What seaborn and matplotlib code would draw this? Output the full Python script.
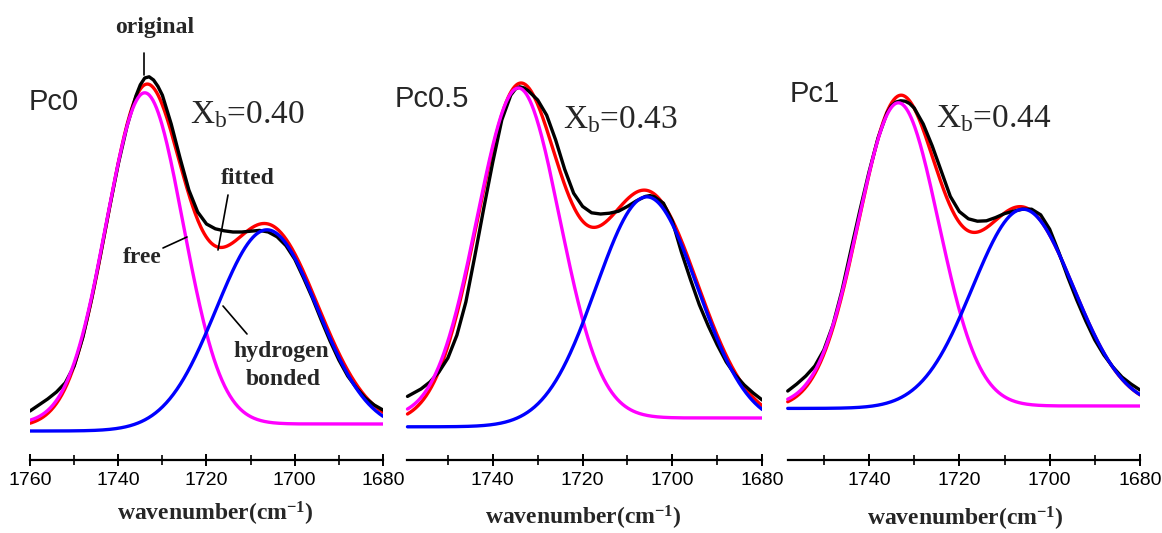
import numpy as np
import pandas as pd
import matplotlib
matplotlib.use("Agg")
import matplotlib.pyplot as plt
import seaborn as sns
from matplotlib.lines import Line2D
from matplotlib.ticker import FixedLocator

sns.set_style("white")
plt.rcParams["font.family"] = ["Liberation Sans", "DejaVu Sans"]
plt.rcParams["mathtext.fontset"] = "custom"
plt.rcParams["mathtext.rm"] = "Liberation Serif"
plt.rcParams["mathtext.it"] = "Liberation Serif:italic"
plt.rcParams["mathtext.bf"] = "Liberation Serif:bold"

# ---------------- data ----------------
samples = ["Pc0", "Pc0.5", "Pc1"]
xb_values = ["0.40", "0.43", "0.44"]

# fitted components: centre, height, sigma, offset
free_center = [1734.0, 1734.3, 1733.5]
free_height = [0.828, 0.825, 0.758]
free_sigma = [8.7, 9.2, 8.9]
free_offset = [0.040, 0.055, 0.085]

bonded_center = [1706.3, 1705.7, 1705.9]
bonded_height = [0.503, 0.575, 0.498]
bonded_sigma = [11.5, 11.3, 11.2]
bonded_offset = [0.0225, 0.033, 0.079]

fitted_offset = [0.0325, 0.0425, 0.0785]
start_wavenumber = [1760, 1759, 1758]

# original spectra
wn_pc0 = [1760, 1758, 1756, 1754, 1752, 1750, 1748, 1746, 1744, 1742, 1740,
          1738, 1736, 1735, 1734, 1733, 1732, 1731, 1730, 1728, 1726, 1724, 1722,
          1720, 1718, 1716, 1714, 1712, 1710, 1708, 1706, 1704, 1702, 1700,
          1698, 1696, 1694, 1692, 1690, 1688, 1686, 1684, 1682, 1680]
orig_pc0 = [0.0725, 0.0875, 0.1025, 0.12, 0.143, 0.185, 0.258, 0.355, 0.465, 0.58,
            0.69, 0.785, 0.86, 0.888, 0.905, 0.908, 0.90, 0.884, 0.862, 0.79, 0.705,
            0.625, 0.57, 0.54, 0.528, 0.523, 0.52, 0.52, 0.522, 0.524, 0.52, 0.508,
            0.486, 0.452, 0.405, 0.355, 0.30, 0.2475, 0.20, 0.16, 0.13, 0.105,
            0.0875, 0.075]

wn_pc05 = [1759, 1756, 1754, 1752, 1750, 1748, 1746, 1744, 1742, 1740,
           1738, 1736, 1735, 1734, 1733, 1732, 1730, 1728, 1726, 1724, 1722,
           1720, 1718, 1716, 1714, 1712, 1710, 1708, 1706, 1705, 1704, 1702,
           1700, 1698, 1696, 1694, 1692, 1690, 1688, 1686, 1684, 1682, 1680]
orig_pc05 = [0.109, 0.1275, 0.145, 0.17, 0.205, 0.262, 0.345, 0.46, 0.58, 0.695,
             0.80, 0.862, 0.877, 0.883, 0.880, 0.872, 0.85, 0.812, 0.75, 0.677,
             0.617, 0.584, 0.568, 0.565, 0.567, 0.572, 0.584, 0.598, 0.609, 0.611,
             0.608, 0.592, 0.547, 0.47, 0.402, 0.338, 0.285, 0.2375, 0.195,
             0.1625, 0.1375, 0.1175, 0.10]

wn_pc1 = [1758, 1756, 1754, 1752, 1750, 1748, 1746, 1744, 1742, 1740,
          1738, 1736, 1735, 1734, 1733, 1732, 1731, 1730, 1728, 1726, 1724, 1722,
          1720, 1718, 1716, 1714, 1712, 1710, 1708, 1706, 1704, 1702, 1700, 1698,
          1696, 1694, 1692, 1690, 1688, 1686, 1684, 1682, 1680]
orig_pc1 = [0.1225, 0.14, 0.16, 0.185, 0.225, 0.287, 0.373, 0.475, 0.575, 0.67,
            0.755, 0.818, 0.836, 0.845, 0.848, 0.847, 0.841, 0.83, 0.79, 0.735,
            0.672, 0.609, 0.571, 0.553, 0.547, 0.548, 0.556, 0.566, 0.572, 0.577,
            0.577, 0.563, 0.527, 0.47, 0.4075, 0.35, 0.2975, 0.25, 0.2125, 0.1825,
            0.1575, 0.14, 0.125]

orig_wn = [wn_pc0, wn_pc05, wn_pc1]
orig_abs = [orig_pc0, orig_pc05, orig_pc1]

tick_labels_shown = [[1760, 1740, 1720, 1700, 1680],
                     [1740, 1720, 1700, 1680],
                     [1740, 1720, 1700, 1680]]

# ---------------- layout ----------------
W, H = 1162, 533
fig = plt.figure(figsize=(W / 100, H / 100), dpi=100)
fig.patch.set_facecolor("white")

axes_px = [(30, 353), (403, 359.2), (778.7, 361.3)]
bottom_px, top_px = 460, 40

palette = {"original": "#000000", "fitted": "#ff0000",
           "free": "#ff00ff", "bonded": "#0000ff"}
order = ["fitted", "original", "free", "bonded"]


def gauss(w, c, h, s):
    return h * np.exp(-(w - c) ** 2 / (2 * s ** 2))


def fx(x):
    return x / W


def fy(y):
    return 1 - y / H


serif = ["Liberation Serif", "DejaVu Serif"]

for i in range(3):
    left, width = axes_px[i]
    ax = fig.add_axes([left / W, (H - bottom_px) / H, width / W, (bottom_px - top_px) / H])
    ax.set_facecolor("none")

    w = np.linspace(start_wavenumber[i], 1680, 400)
    g_free = gauss(w, free_center[i], free_height[i], free_sigma[i])
    g_bond = gauss(w, bonded_center[i], bonded_height[i], bonded_sigma[i])

    frames = [
        pd.DataFrame({"wavenumber": orig_wn[i], "absorbance": orig_abs[i], "curve": "original"}),
        pd.DataFrame({"wavenumber": w, "absorbance": fitted_offset[i] + g_free + g_bond, "curve": "fitted"}),
        pd.DataFrame({"wavenumber": w, "absorbance": free_offset[i] + g_free, "curve": "free"}),
        pd.DataFrame({"wavenumber": w, "absorbance": bonded_offset[i] + g_bond, "curve": "bonded"}),
    ]
    df = pd.concat(frames, ignore_index=True)
    sns.lineplot(data=df, x="wavenumber", y="absorbance", hue="curve",
                 hue_order=order, palette=palette, linewidth=2.4,
                 estimator=None, legend=False, ax=ax, zorder=3)
    for ln in ax.get_lines():
        ln.set_solid_joinstyle("round")
        ln.set_solid_capstyle("round")

    ax.set_xlim(1760, 1680)
    ax.set_ylim(-0.05, 1.0)
    for s in ["left", "right", "top"]:
        ax.spines[s].set_visible(False)
    ax.spines["bottom"].set_linewidth(1.6)
    ax.spines["bottom"].set_color("black")
    ax.spines["bottom"].set_bounds(start_wavenumber[i], 1680)
    ax.set_yticks([])
    ax.xaxis.set_major_locator(FixedLocator(tick_labels_shown[i]))
    ax.xaxis.set_minor_locator(FixedLocator([1750, 1730, 1710, 1690]))
    ax.set_xticklabels([str(t) for t in tick_labels_shown[i]])
    ax.tick_params(axis="x", which="major", direction="inout", length=9, width=1.4,
                   labelsize=14, pad=4, bottom=True, colors="black")
    ax.tick_params(axis="x", which="minor", direction="inout", length=7, width=1.4,
                   bottom=True)
    ax.set_xlabel("")
    ax.set_ylabel("")

# panel labels
fig.text(fx(29), fy(110), samples[0], fontsize=21, va="baseline", ha="left")
fig.text(fx(395), fy(107), samples[1], fontsize=21, va="baseline", ha="left")
fig.text(fx(790), fy(102), samples[2], fontsize=21, va="baseline", ha="left")

xb_pos = [(190, 123), (563, 128), (936, 127)]
for (x, y), val in zip(xb_pos, xb_values):
    fig.text(fx(x), fy(y), r"X$_{\rm b}$=" + val, fontsize=24, family=serif,
             va="baseline", ha="left")

# x labels
xl_pos = [(215, 514), (583, 518), (965, 519)]
for x, y in xl_pos:
    fig.text(fx(x), fy(y), r"wavenumber(cm$^{\mathbf{-1}}$)", fontsize=17,
             family=serif, weight="bold", ha="center", va="center")

# annotations in panel 1
ann = [("original", 155, 33), ("fitted", 248, 184), ("free", 142, 263),
       ("hydrogen", 281, 357), ("bonded", 283, 385)]
for txt, x, y in ann:
    fig.text(fx(x), fy(y), txt, fontsize=17, family=serif, weight="bold",
             ha="center", va="baseline", zorder=1)

leader_lines = [((144, 53), (144, 75)),
                ((228, 195), (218, 250)),
                ((163, 248), (187, 237)),
                ((223, 306), (247, 334))]
for (x0, y0), (x1, y1) in leader_lines:
    fig.add_artist(Line2D([fx(x0), fx(x1)], [fy(y0), fy(y1)], color="black",
                          linewidth=1.2, transform=fig.transFigure))

fig.savefig("out.png", dpi=100, facecolor="white")
